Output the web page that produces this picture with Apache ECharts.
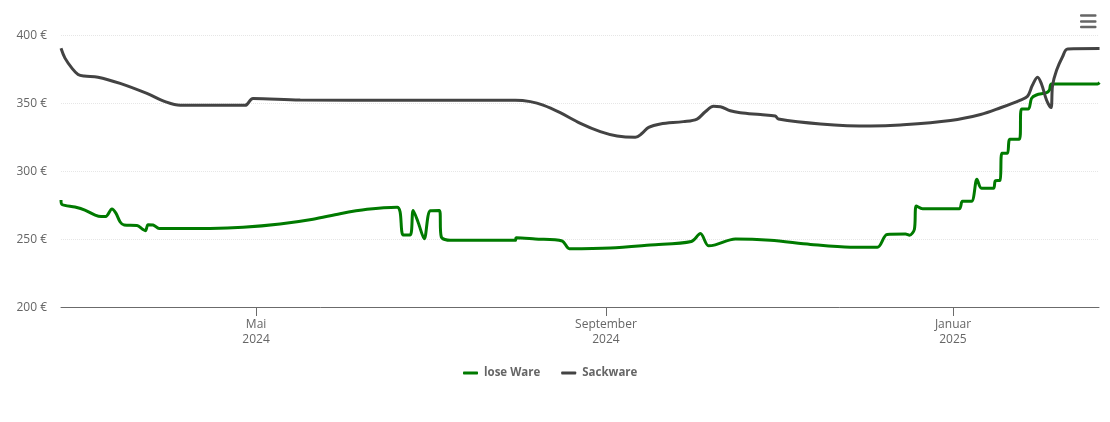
<!DOCTYPE html>
<html>
<head>
<meta charset="utf-8">
<style>html,body{margin:0;padding:0;background:#fff}#c{width:1110px;height:422px}</style>
<script src="https://cdn.jsdelivr.net/npm/echarts@6/dist/echarts.min.js"></script>
</head>
<body>
<div id="c"></div>
<script>
const startDate = '2024-02-22T14:00:00';
const endDate = '2025-02-21T12:00:00';
const tickDates = ['2024-05-01T04:00:00', '2024-09-01T04:00:00', '2025-01-01T04:00:00'];
const tickLabels = ['Mai\n2024', 'September\n2024', 'Januar\n2025'];
const yTicks = [200, 250, 300, 350, 400];

// days since startDate
const loseDays = [0,0.35,4.9,8.4,12,14.1,15.8,17.9,19.3,20.8,22.2,26.7,28.8,29.7,30.6,32.4,34.5,52.4,64,77,88.6,98.1,107.6,118.2,119.2,120.3,122.8,123.8,125.6,127.7,129.8,133,133.7,136.8,159.7,160,166.7,176.2,178.7,193.1,207.2,221.6,224.8,227.6,230,237.1,249.4,263.5,277.5,287,290.4,296.9,298.3,300,300.7,302.9,315.8,316.9,320.1,322,323.6,327.8,328.5,330.1,330.8,332.7,333.6,336.9,337.7,340.1,341.2,342.9,346.5,347.5,348.2,364.4,365.1];
const loseValues = [278.7,275.4,273.5,271.3,267.6,266.5,266.6,272,269,262.5,260.3,260,257,256,260.5,260.3,257.7,257.8,258.6,261,264.5,268.6,271.8,273.3,270,253,253,271,262,250.2,270.8,271,251.5,249,249,251,250,248.5,242.9,243.4,245.6,248.2,254,245,245.7,250,249,246,244,244,253.3,253.6,252.8,257,274.3,272.3,272.3,277.7,277.7,293.9,287.3,287.3,292.9,293,313,313,323.3,323.3,345.6,345.6,353.4,355.9,357.6,359.6,364,364,365];
const sackDays = [0,1.4,3.9,6,8.1,13,20.8,30.2,36.6,41.9,64.7,67.5,84.1,119.2,159.7,165,169.5,175.5,182.6,189.6,195.5,201.9,204.3,206.6,210.7,218.8,223.6,226.5,229.4,231.8,235.3,238.8,245.9,251.1,252.2,267,284.6,295.1,312.7,323.3,330.3,337.3,339.8,341.5,343.3,344.7,346.5,348,348.6,350,352.1,353.9,365.1];
const sackValues = [390.2,383,375.5,371,369.8,369,364.4,357,351,348.3,348.3,353.4,352.2,352,352,351,348.5,342.9,335,328.9,325.7,324.8,327.7,332.1,334.6,336.3,338.2,343.6,347.6,347.3,344.3,342.9,341.5,340.4,338.2,334.6,333,333.8,337.1,341.5,346.5,352.2,355,363,369,364,352,346.6,363,374,384,389.7,390];

const DAY = 86400000;
const t0 = new Date(startDate).getTime();
const toPairs = (days, vals) => days.map((d, i) => [t0 + d * DAY, vals[i]]);
const tickTimes = tickDates.map(d => new Date(d).getTime());
const FONT = '"Open Sans", sans-serif';

const chart = echarts.init(document.getElementById('c'), null, {renderer: 'canvas'});
chart.setOption({
  animation: false,
  backgroundColor: '#fff',
  grid: {left: 61, right: 11, top: 35, bottom: 115},
  legend: {
    data: ['lose Ware', 'Sackware'],
    left: 458, top: 362,
    icon: 'roundRect', itemWidth: 15, itemHeight: 3, itemGap: 21,
    textStyle: {fontFamily: FONT, fontSize: 11.5, fontWeight: 'bold', color: '#666', padding: [0, 0, 0, 1]}
  },
  xAxis: {
    type: 'value',
    min: t0,
    max: new Date(endDate).getTime(),
    splitLine: {show: false},
    axisLine: {lineStyle: {color: '#6b6b6b', width: 1}},
    axisTick: {show: true, customValues: tickTimes, length: 9, lineStyle: {color: '#6b6b6b', width: 1}},
    axisLabel: {
      customValues: tickTimes,
      formatter: v => tickLabels[tickTimes.indexOf(v)] || '',
      fontFamily: FONT, fontSize: 12, color: '#666', lineHeight: 15, margin: 10,
      hideOverlap: false
    }
  },
  yAxis: {
    type: 'value', min: yTicks[0], max: yTicks[yTicks.length - 1], interval: 50,
    axisLine: {show: false}, axisTick: {show: false},
    axisLabel: {
      formatter: v => '{v|' + v + ' €}',
      margin: 14,
      rich: {v: {fontFamily: FONT, fontSize: 12, color: '#666', padding: [2, 0, 0, 0]}}
    },
    splitLine: {lineStyle: {color: '#e6e6e6', type: [1, 1], width: 1}}
  },
  series: [
    {name: 'lose Ware', type: 'line', data: toPairs(loseDays, loseValues), smooth: 0.3, showSymbol: false, symbol: 'none', lineStyle: {width: 3, color: '#007a00'}, itemStyle: {color: '#007a00'}},
    {name: 'Sackware', type: 'line', data: toPairs(sackDays, sackValues), smooth: 0.35, showSymbol: false, symbol: 'none', lineStyle: {width: 3, color: '#434343'}, itemStyle: {color: '#434343'}}
  ],
  graphic: [15.5, 21.5, 27].map(y => ({
    type: 'rect', shape: {x: 1080, y: y - 1.25, width: 16.5, height: 2.5, r: 1},
    style: {fill: '#666'}, silent: true
  }))
});
</script>
</body>
</html>
